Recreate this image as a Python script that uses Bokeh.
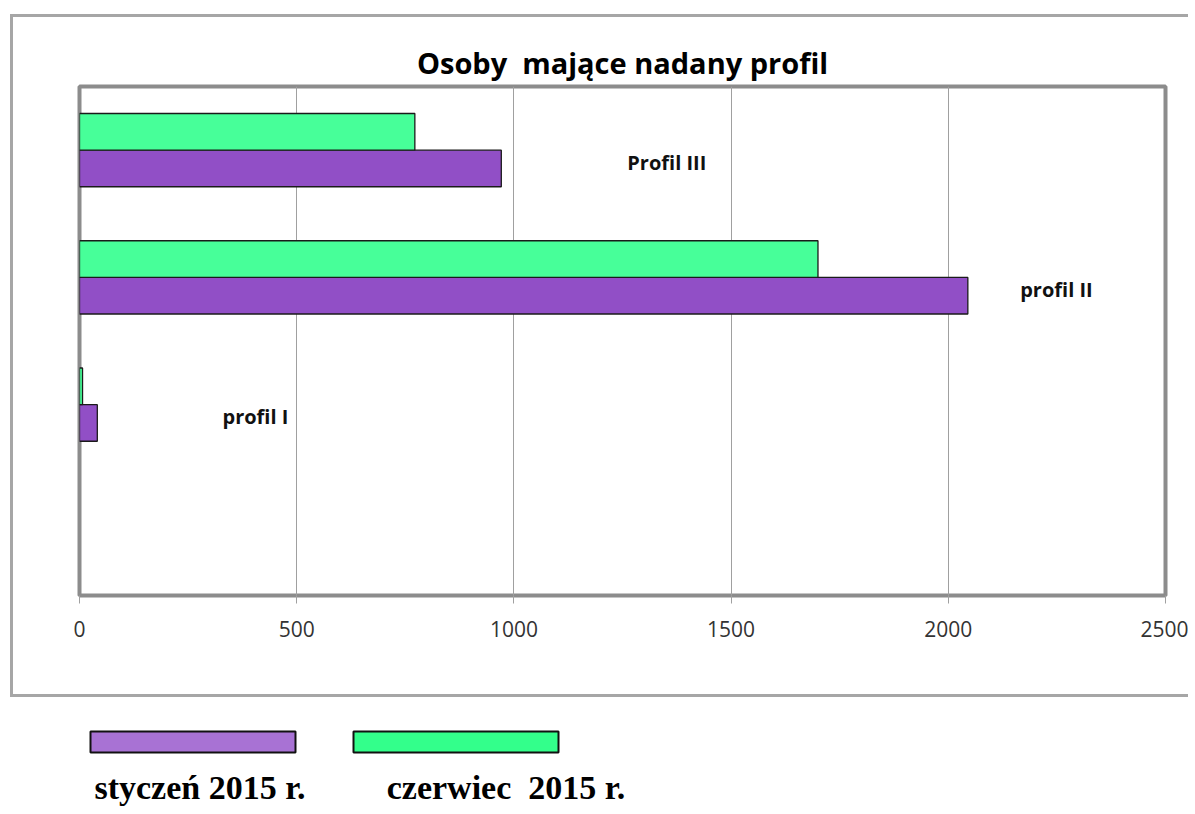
from bokeh.plotting import figure
from bokeh.models import FactorRange, Range1d, ColumnDataSource, FixedTicker
from bokeh.transform import dodge
from bokeh.layouts import column
from bokeh.core.properties import value
from bokeh.embed import file_html
from bokeh.resources import INLINE

# ---- data ----
categories = ["profil I", "profil II", "Profil III"]
jan_2015 = [41, 2045, 971]
jun_2015 = [7, 1700, 772]
series = ["styczeń 2015 r.", "czerwiec \u00a02015 r."]
series_colors = ["#A872D4", "#33FF8B"]
x_ticks = [0, 500, 1000, 1500, 2000, 2500]
label_x = [405, 2249, 1352]   # where the category labels sit (data units)
title_text = "Osoby \u00a0mające nadany profil"

slots = [""] + categories

p = figure(width=1178, height=683,
           y_range=FactorRange(factors=slots), x_range=Range1d(0, 2500),
           output_backend="svg", toolbar_location=None,
           min_border_left=66, min_border_right=26,
           min_border_top=69, min_border_bottom=105,
           frame_align=False)
p.margin = (14, 0, 0, 10)
p.styles = {"border-left": "3px solid #a6a6a6",
            "border-top": "3px solid #a6a6a6",
            "border-bottom": "3px solid #a6a6a6"}

p.title.text = title_text
p.title.align = "center"
p.title.text_font = "Open Sans"
p.title.text_font_style = "bold"
p.title.text_font_size = "29px"
p.title.text_color = "#000000"
p.title.standoff = 10

src = ColumnDataSource(dict(cat=categories, jan=jan_2015, jun=jun_2015, lx=label_x))

p.hbar(y=dodge("cat", -0.144, range=p.y_range), left=0, right="jan", height=0.288,
       fill_color="#914FC6", line_color="#1a1a1a", line_width=1.3, source=src)
p.hbar(y=dodge("cat", 0.144, range=p.y_range), left=0, right="jun", height=0.288,
       fill_color="#47FF99", line_color="#1a1a1a", line_width=1.3, source=src)

p.text(x="lx", y="cat", text="cat", source=src, y_offset=12,
       text_font=value("Open Sans"), text_font_style="bold", text_font_size=value("20px"),
       text_align="center", text_baseline="middle", text_color="#111111")

p.outline_line_color = "#8c8c8c"
p.outline_line_width = 4

p.yaxis.visible = False
p.ygrid.grid_line_color = None
p.xgrid.grid_line_color = "#a0a0a0"
p.xgrid.grid_line_width = 1
p.xaxis.ticker = FixedTicker(ticks=x_ticks)
p.xaxis.axis_line_color = None
p.xaxis.major_tick_line_color = "#a0a0a0"
p.xaxis.major_tick_out = 8
p.xaxis.major_tick_in = 0
p.xaxis.minor_tick_line_color = None
p.xaxis.major_label_standoff = 17
p.xaxis.major_label_text_font = "Open Sans"
p.xaxis.major_label_text_font_size = "21px"
p.xaxis.major_label_text_color = "#333333"

# ---- legend strip ----
leg = figure(width=1187, height=110, x_range=FactorRange(factors=series + [""]),
             y_range=Range1d(0, 110), output_backend="svg", toolbar_location=None,
             min_border_left=61, min_border_right=337, min_border_top=0, min_border_bottom=0,
             frame_align=False)
leg.axis.visible = False
leg.grid.grid_line_color = None
leg.outline_line_color = None

lsrc = ColumnDataSource(dict(name=series, color=series_colors, sy=[65.5, 65.5], ty=[20.5, 20.5], dx=[7, 50]))
leg.rect(x="name", y="sy", width=205, height=21, width_units="screen", height_units="screen",
         fill_color="color", line_color="#111111", line_width=2, source=lsrc)
leg.text(x="name", y="ty", text="name", x_offset="dx", source=lsrc,
         text_font=value("Liberation Serif"), text_font_style="bold", text_font_size=value("34px"),
         text_align="center", text_baseline="middle", text_color="#000000")

layout = column(p, leg, spacing=0)
open("out.html", "w").write(file_html(layout, INLINE))
